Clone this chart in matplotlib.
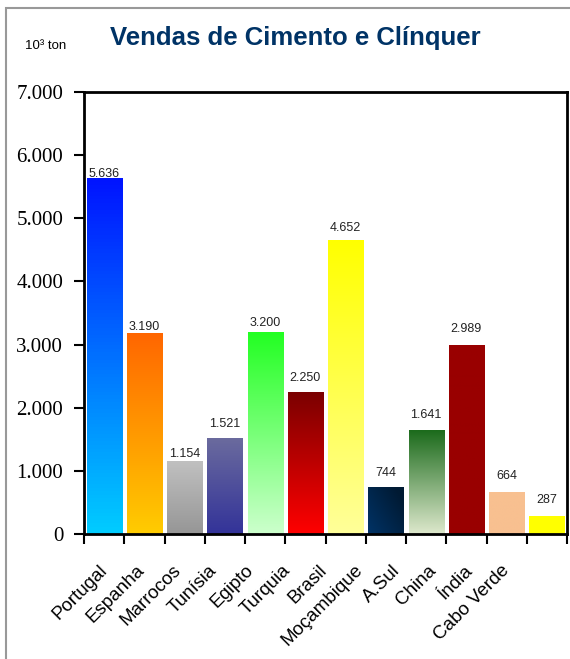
import matplotlib.pyplot as plt
import numpy as np
from matplotlib.colors import to_rgb
from matplotlib.patches import Rectangle
from matplotlib.ticker import FuncFormatter
from matplotlib.transforms import ScaledTranslation

paises = ["Portugal", "Espanha", "Marrocos", "Tunísia", "Egipto", "Turquia",
          "Brasil", "Moçambique", "A.Sul", "China", "Índia", "Cabo Verde"]
vendas = [5636, 3190, 1154, 1521, 3200, 2250, 4652, 744, 1641, 2989, 664, 287]

# gradient colours for each bar: (top, bottom)
cor_topo = ["#0014ff", "#ff6600", "#c0c0c0", "#6b6b9e", "#22ff22", "#7a0000",
            "#ffff00", "#001a33", "#1c6b1c", "#990000", "#f8c090", "#ffff00"]
cor_base = ["#00ccff", "#ffcc00", "#969696", "#333399", "#ccffcc", "#ff0000",
            "#ffff99", "#003366", "#dde8cc", "#990000", "#f8c090", "#ffff00"]
# label gap above each bar, in points
folga = [-1, 0, 0.5, 6, 2, 5.5, 4.5, 5.5, 7, 7.5, 7, 7]

plt.rcParams['font.family'] = ['Liberation Sans', 'DejaVu Sans']

fig = plt.figure(figsize=(5.7, 6.59), dpi=100)
# outer frame
fig.patches.append(Rectangle((6 / 570, -0.01), 1.0, 1 - 8 / 659 + 0.01,
                             transform=fig.transFigure, fill=False,
                             edgecolor="#999999", linewidth=1.5))

ax = fig.add_axes([84 / 570, 1 - 534 / 659, 483 / 570, 442 / 659])
x = np.arange(len(paises))
barras = ax.bar(x, vendas, width=0.87, color="none")

for i, b in enumerate(barras):
    topo = np.array(to_rgb(cor_topo[i]))
    base = np.array(to_rgb(cor_base[i]))
    t = np.linspace(0, 1, 100)[:, None]
    if paises[i] == "Moçambique":
        # diagonal shading, darker towards the upper right
        s = np.linspace(0, 1, 50)[None, :]
        k = np.clip(0.65 * s + 0.5 * (1 - t), 0, 1)
        img = base * (1 - k[..., None]) + topo * k[..., None]
    else:
        img = topo * (1 - t[..., None]) + base * t[..., None]
        img = np.repeat(img, 2, axis=1)
    x0, w, h = b.get_x(), b.get_width(), b.get_height()
    im = ax.imshow(img, extent=(x0, x0 + w, 0, h), aspect="auto",
                   origin="upper", zorder=2)
    im.set_clip_path(b)
    ax.annotate(f"{vendas[i]:,}".replace(",", "."), (x[i], h),
                xytext=(0, folga[i]), textcoords="offset points",
                ha="center", va="bottom", fontsize=9, color="#222222")

ax.set_xlim(-0.5, len(paises) - 0.5)
ax.set_ylim(0, 7000)

ax.set_yticks(range(0, 7001, 1000))
ax.yaxis.set_major_formatter(FuncFormatter(lambda v, p: f"{int(v):,}".replace(",", ".")))
for lbl in ax.get_yticklabels():
    lbl.set_family("Liberation Serif")
    lbl.set_fontsize(15)
ax.tick_params(axis="y", length=7, width=1.5, pad=8)

ax.set_xticks(np.arange(len(paises) + 1) - 0.5, minor=False)
ax.set_xticklabels([])
ax.set_xticks(x, minor=True)
ax.set_xticklabels(paises, minor=True, rotation=45, ha="right",
                   rotation_mode="anchor", fontsize=13.5)
ax.tick_params(axis="x", which="major", length=7, width=1.5)
ax.tick_params(axis="x", which="minor", length=0, pad=20)
# category labels sit a bit tighter than the bars, drifting left
for i, lbl in enumerate(ax.get_xticklabels(minor=True)):
    desloc = ScaledTranslation(-(0.05 + 0.0375 * i), 0, fig.dpi_scale_trans)
    lbl.set_transform(lbl.get_transform() + desloc)

for s in ax.spines.values():
    s.set_linewidth(2)

fig.text(295 / 570, 1 - 38 / 659, "Vendas de Cimento e Clínquer",
         ha="center", va="center", fontsize=18.5, fontweight="bold",
         color="#003366")
fig.text(25 / 570, 1 - 46 / 659, "10³ ton", ha="left", va="center",
         fontsize=9.5)

fig.savefig("out.png", dpi=100)
